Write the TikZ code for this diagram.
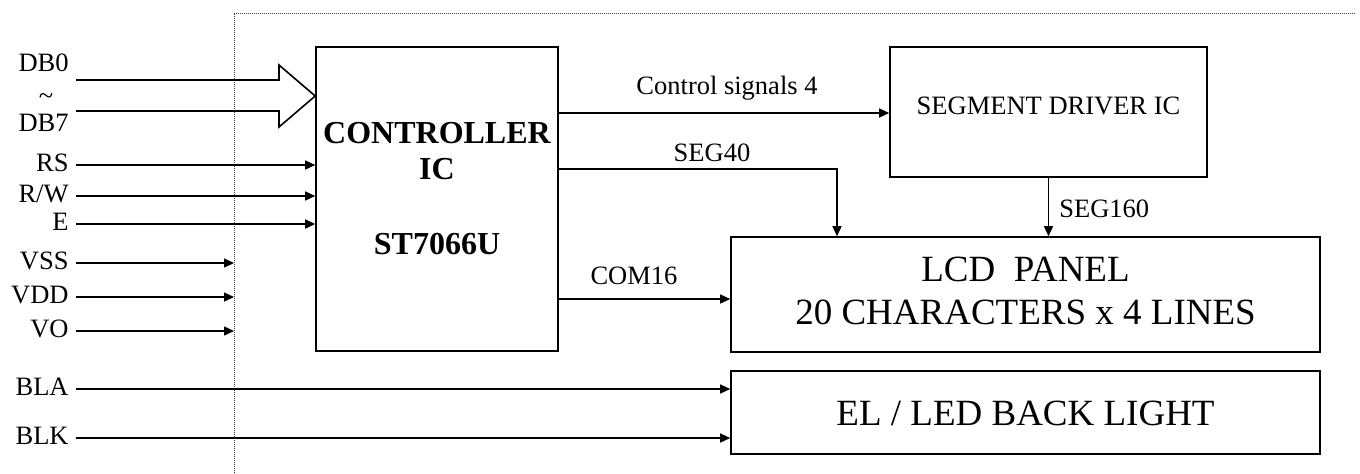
\documentclass[tikz,border=0pt]{standalone}
\usepackage{fontspec}
\setmainfont{Liberation Serif}
\usetikzlibrary{arrows.meta,calc}
\begin{document}
\begin{tikzpicture}[x=0.5pt,y=-0.5pt,
  box/.style={draw, line width=0.8pt, inner sep=0pt},
  conn/.style={line width=0.7pt, -{Triangle[length=5pt,width=4.5pt]}},
  lbl/.style={anchor=east, inner xsep=3.5pt, inner ysep=0pt, text height=0.66em, text depth=0pt, font=\fontsize{13.25}{15}\selectfont},
  sig/.style={anchor=base, inner sep=0pt, font=\fontsize{13.25}{15}\selectfont},
  big/.style={inner sep=0pt, align=center, font=\fontsize{18.5}{21.5}\selectfont},
  frame/.style={line width=0.4pt, dash pattern=on 0.5pt off 0.5pt, black!75}]
\useasboundingbox (0,0) rectangle (1360,473);

% dotted frame
\coordinate (fc) at (234,13);
\draw[frame] (234,473) -- (fc) -- (1356,13);

% boxes
\node[box, minimum width=121pt, minimum height=152pt] (ctrl) at (437,199) {};
\node[box, minimum width=158.5pt, minimum height=65pt] (seg) at (1048.5,112) {};
\node[box, minimum width=294.5pt, minimum height=57.5pt] (lcd) at (1025.5,294.5) {};
\node[box, minimum width=294.5pt, minimum height=41.5pt] (bl) at (1025.5,412.5) {};

% box texts
\node[anchor=north, inner sep=0pt, align=center, font=\bfseries\fontsize{16}{18}\selectfont] (ctrlt) at (437,122) {CONTROLLER\\IC\\[19.5pt]ST7066U};
\node[sig] (segt) at (1048.5,114) {SEGMENT DRIVER IC};
\node[big, anchor=north] (lcdt) at (1025.5,257) {LCD\ \ PANEL\\20 CHARACTERS x 4 LINES};
\node[big, anchor=base] (blt) at (1025.5,425) {EL / LED BACK LIGHT};

% data bus
\node[lbl] (db0) at (76,64.5) {DB0};
\node[inner sep=0pt, font=\fontsize{13.25}{15}\selectfont] (tilde) at (46,99) {\textasciitilde};
\node[lbl] (db7) at (76,125) {DB7};
\draw[line width=0.8pt, line join=miter] (76,80) -- (279,80) -- (279,65) -- (ctrl.west |- 0,96) -- (279,127) -- (279,111) -- (76,111);

% control inputs
\node[lbl] (rs) at (76,165) {RS};
\node[lbl] (rw) at (76,196) {R/W};
\node[lbl] (e) at (76,224) {E};
\draw[conn] (rs) -- (rs -| ctrl.west);
\draw[conn] (rw) -- (rw -| ctrl.west);
\draw[conn] (e) -- (e -| ctrl.west);

% power inputs
\node[lbl] (vss) at (76,263) {VSS};
\node[lbl] (vdd) at (76,297) {VDD};
\node[lbl] (vo) at (76,331) {VO};
\draw[conn] (vss) -- (vss -| fc);
\draw[conn] (vdd) -- (vdd -| fc);
\draw[conn] (vo) -- (vo -| fc);

% backlight inputs
\node[lbl] (bla) at (76,389) {BLA};
\node[lbl] (blk) at (76,438) {BLK};
\draw[conn] (bla) -- (bla -| bl.west);
\draw[conn] (blk) -- (blk -| bl.west);

% internal connections
\coordinate (csA) at (ctrl.east |- 0,113);
\draw[conn] (csA) -- (csA -| seg.west);
\node[sig] (cst) at (727,94) {Control signals 4};

\coordinate (s40) at (ctrl.east |- 0,169);
\draw[conn] (s40) -| (lcd.north -| 837,0);
\node[sig] (s40t) at (712,161) {SEG40};

\draw[conn] (seg.south) -- (seg.south |- lcd.north);
\node[sig, anchor=base west] (s160t) at (1059,217) {SEG160};

\coordinate (c16) at (ctrl.east |- 0,299);
\draw[conn] (c16) -- (c16 -| lcd.west);
\node[sig] (c16t) at (634,284) {COM16};
\end{tikzpicture}
\end{document}
